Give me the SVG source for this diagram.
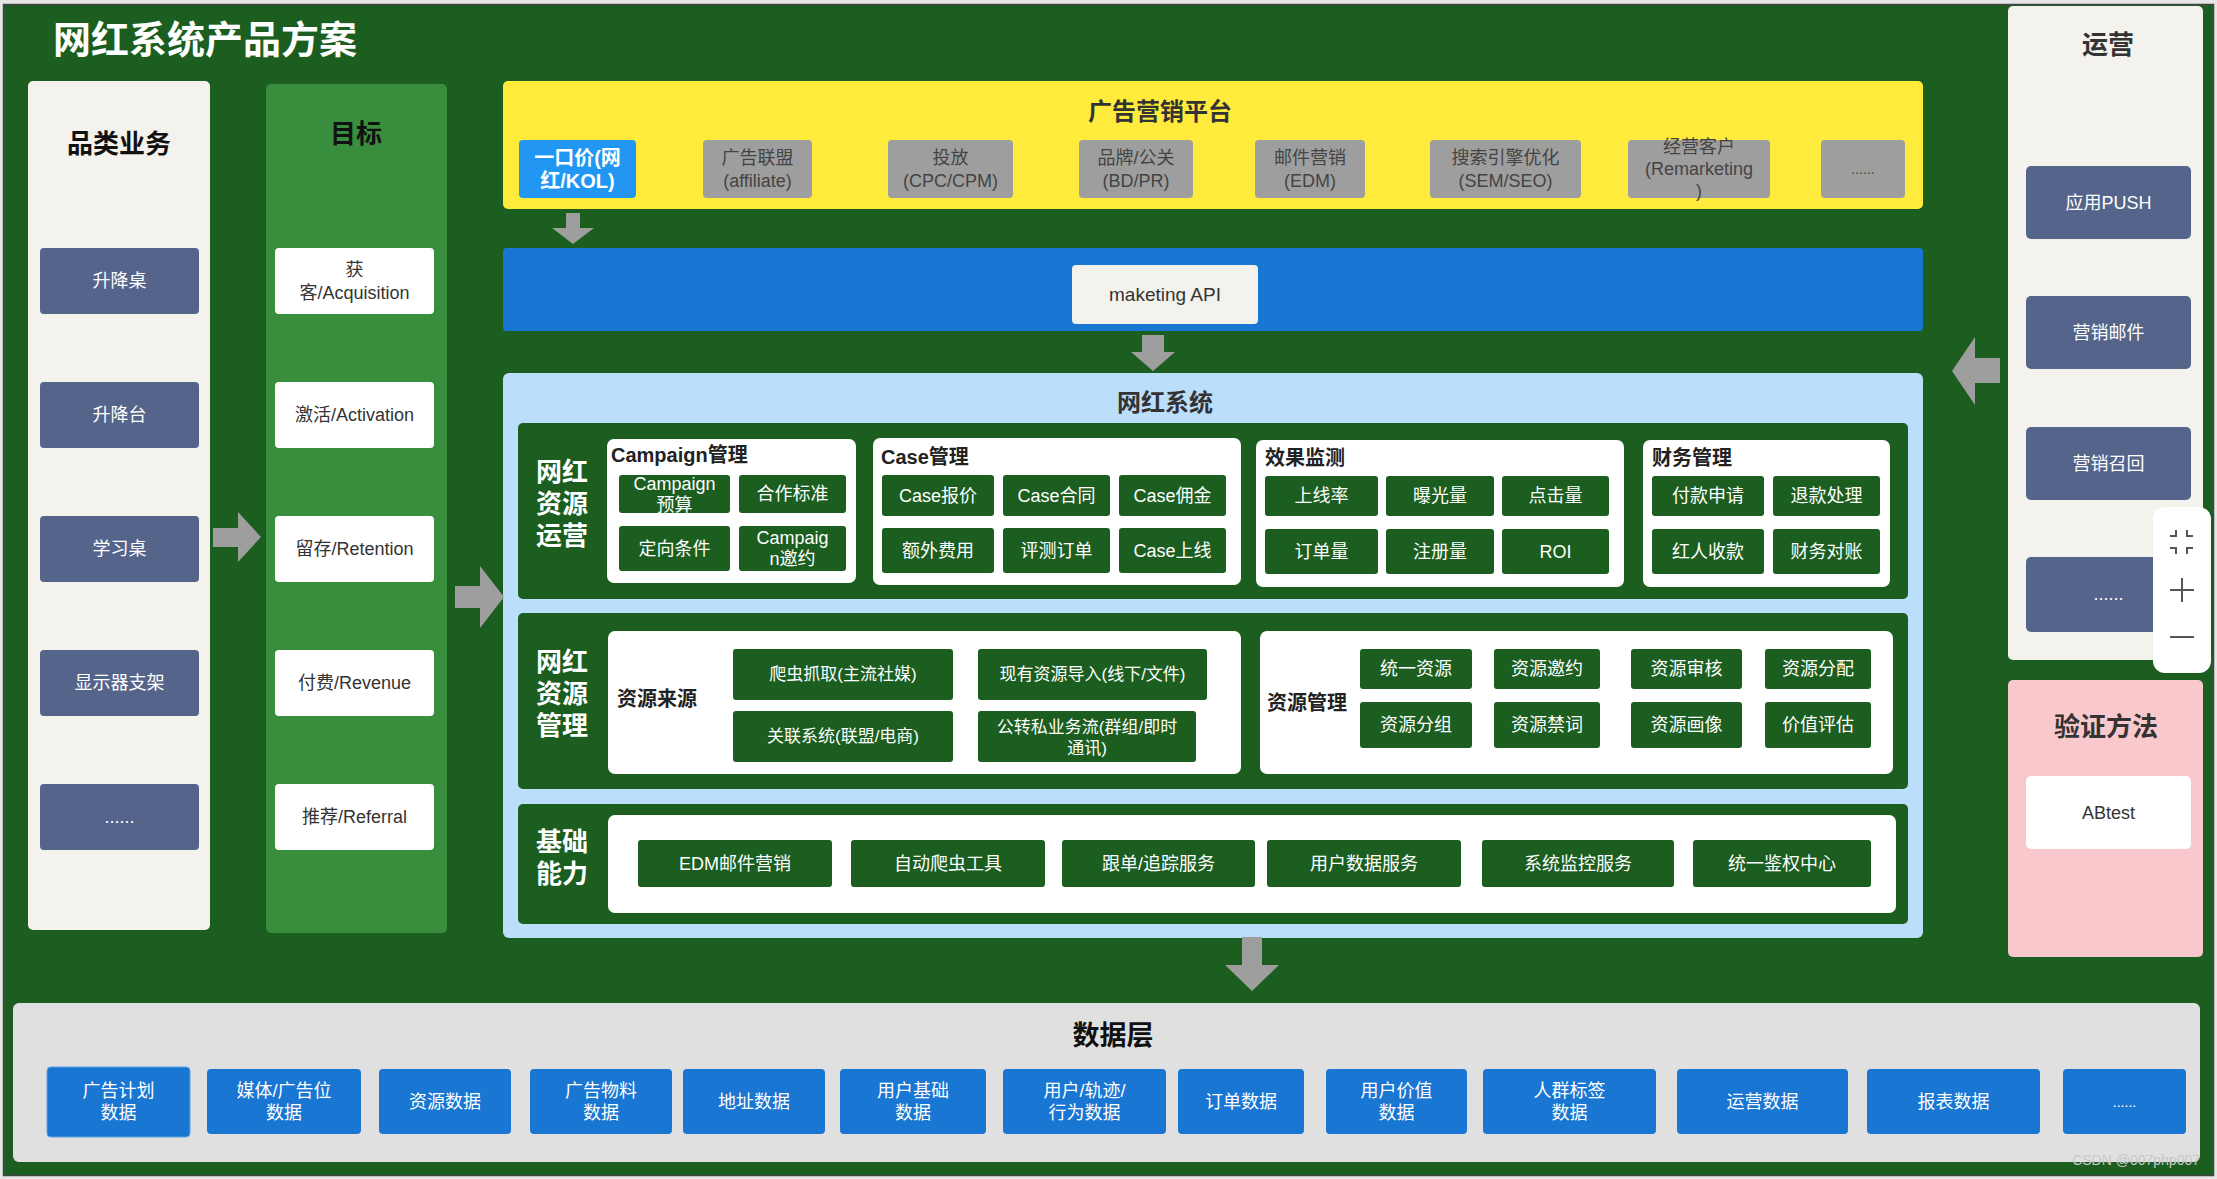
<svg xmlns="http://www.w3.org/2000/svg" width="2217" height="1179" viewBox="0 0 2217 1179">
<defs>
<style>
text{font-family:"Liberation Sans","Noto Sans CJK SC",sans-serif;dominant-baseline:central;text-anchor:middle}
.beige{fill:#f3f2ec}
.slate{fill:#55648a}
.wb{fill:#ffffff}
.dg{fill:#1b5e20}
.gray{fill:#9e9e9e}
.blue{fill:#1976d2}
.arrow{fill:#9e9e9e}
.tw{font-size:18px;fill:#ffffff}
.td{font-size:18px;fill:#333333}
.tg{font-size:18px;fill:#444444}
.ts{font-size:17px;fill:#ffffff}
.hd{font-size:26px;font-weight:bold;fill:#111111}
.hd2{font-size:24px;font-weight:bold;fill:#333333}
.sec{font-size:26px;font-weight:bold;fill:#ffffff}
.sub{font-size:20px;font-weight:bold;fill:#222222;text-anchor:start}
</style>
</defs>
<rect x="0" y="0" width="2217" height="1179" fill="#e6e6e6"/>
<rect x="3.5" y="4.5" width="2210" height="1171" fill="#1b5e20" stroke="#444" stroke-width="1.5"/>
<text x="53" y="40" style="font-size:38px;font-weight:bold;fill:#ffffff;text-anchor:start">网红系统产品方案</text>

<!-- 品类业务 -->
<g id="category">
<rect class="beige" x="28" y="81" width="182" height="849" rx="5"/>
<text class="hd" x="119" y="144">品类业务</text>
</g>
<g id="cat-1"><rect class="slate" x="40" y="248" width="159" height="66" rx="4"/><text class="tw" x="119.5" y="281">升降桌</text></g>
<g id="cat-2"><rect class="slate" x="40" y="382" width="159" height="66" rx="4"/><text class="tw" x="119.5" y="415">升降台</text></g>
<g id="cat-3"><rect class="slate" x="40" y="516" width="159" height="66" rx="4"/><text class="tw" x="119.5" y="549">学习桌</text></g>
<g id="cat-4"><rect class="slate" x="40" y="650" width="159" height="66" rx="4"/><text class="tw" x="119.5" y="683">显示器支架</text></g>
<g id="cat-5"><rect class="slate" x="40" y="784" width="159" height="66" rx="4"/><text class="tw" x="119.5" y="817">......</text></g>

<!-- 目标 -->
<g id="goal">
<rect x="266" y="84" width="181" height="849" rx="5" fill="#388e3c"/>
<text class="hd" x="356" y="134">目标</text>
</g>
<g id="goal-1"><rect class="wb" x="275" y="248" width="159" height="66" rx="4"/><text class="td" x="354.5" y="270"><tspan x="354.5">获</tspan><tspan x="354.5" dy="23">客/Acquisition</tspan></text></g>
<g id="goal-2"><rect class="wb" x="275" y="382" width="159" height="66" rx="4"/><text class="td" x="354.5" y="415">激活/Activation</text></g>
<g id="goal-3"><rect class="wb" x="275" y="516" width="159" height="66" rx="4"/><text class="td" x="354.5" y="549">留存/Retention</text></g>
<g id="goal-4"><rect class="wb" x="275" y="650" width="159" height="66" rx="4"/><text class="td" x="354.5" y="683">付费/Revenue</text></g>
<g id="goal-5"><rect class="wb" x="275" y="784" width="159" height="66" rx="4"/><text class="td" x="354.5" y="817">推荐/Referral</text></g>

<!-- 广告营销平台 -->
<g id="ad-platform">
<rect x="503" y="81" width="1420" height="128" rx="5" fill="#ffeb3b"/>
<text class="hd2" x="1160" y="111">广告营销平台</text>
</g>
<g id="ad-1"><rect x="519" y="140" width="117" height="58" rx="4" fill="#2196f3"/><text style="font-size:20px;font-weight:bold;fill:#fff" x="577.5" y="158"><tspan x="577.5">一口价(网</tspan><tspan x="577.5" dy="23">红/KOL)</tspan></text></g>
<g id="ad-2"><rect class="gray" x="703" y="140" width="109" height="58" rx="4"/><text class="tg" x="757.5" y="158"><tspan x="757.5">广告联盟</tspan><tspan x="757.5" dy="23">(affiliate)</tspan></text></g>
<g id="ad-3"><rect class="gray" x="888" y="140" width="125" height="58" rx="4"/><text class="tg" x="950.5" y="158"><tspan x="950.5">投放</tspan><tspan x="950.5" dy="23">(CPC/CPM)</tspan></text></g>
<g id="ad-4"><rect class="gray" x="1079" y="140" width="114" height="58" rx="4"/><text class="tg" x="1136" y="158"><tspan x="1136">品牌/公关</tspan><tspan x="1136" dy="23">(BD/PR)</tspan></text></g>
<g id="ad-5"><rect class="gray" x="1255" y="140" width="110" height="58" rx="4"/><text class="tg" x="1310" y="158"><tspan x="1310">邮件营销</tspan><tspan x="1310" dy="23">(EDM)</tspan></text></g>
<g id="ad-6"><rect class="gray" x="1430" y="140" width="151" height="58" rx="4"/><text class="tg" x="1505.5" y="158"><tspan x="1505.5">搜索引擎优化</tspan><tspan x="1505.5" dy="23">(SEM/SEO)</tspan></text></g>
<g id="ad-7"><rect class="gray" x="1628" y="140" width="142" height="58" rx="4"/><text class="tg" x="1699" y="147"><tspan x="1699">经营客户</tspan><tspan x="1699" dy="22">(Remarketing</tspan><tspan x="1699" dy="22">)</tspan></text></g>
<g id="ad-8"><rect class="gray" x="1821" y="140" width="84" height="58" rx="4"/><text class="tg" x="1863" y="169" style="font-size:14px">......</text></g>

<!-- marketing API -->
<g id="api-bar">
<rect class="blue" x="503" y="248" width="1420" height="83" rx="4"/>
</g>
<g id="api"><rect class="beige" x="1072" y="265" width="186" height="59" rx="4"/><text class="td" x="1165" y="294.5" style="font-size:19px">maketing API</text></g>

<!-- 网红系统 -->
<g id="kol-system">
<rect x="503" y="373" width="1420" height="565" rx="6" fill="#bbdefb"/>
<text class="hd2" x="1165" y="402">网红系统</text>
</g>

<g id="sec-ops">
<rect class="dg" x="518" y="423" width="1390" height="176" rx="5"/>
<text class="sec" x="562" y="472"><tspan x="562">网红</tspan><tspan x="562" dy="32">资源</tspan><tspan x="562" dy="32">运营</tspan></text>
</g>
<g id="campaign">
<rect class="wb" x="607" y="439" width="249" height="144" rx="7"/>
<text class="sub" x="611" y="455">Campaign管理</text>
</g>
<g id="cp-1"><rect class="dg" x="619" y="475" width="111" height="38" rx="3"/><text class="tw" x="674.5" y="484"><tspan x="674.5">Campaign</tspan><tspan x="674.5" dy="21">预算</tspan></text></g>
<g id="cp-2"><rect class="dg" x="739" y="475" width="107" height="38" rx="3"/><text class="tw" x="792.5" y="494">合作标准</text></g>
<g id="cp-3"><rect class="dg" x="619" y="526" width="111" height="45" rx="3"/><text class="tw" x="674.5" y="548.5">定向条件</text></g>
<g id="cp-4"><rect class="dg" x="739" y="526" width="107" height="45" rx="3"/><text class="tw" x="792.5" y="538"><tspan x="792.5">Campaig</tspan><tspan x="792.5" dy="21">n邀约</tspan></text></g>

<g id="case">
<rect class="wb" x="873" y="438" width="368" height="147" rx="7"/>
<text class="sub" x="881" y="457">Case管理</text>
</g>
<g id="case-1"><rect class="dg" x="882" y="475" width="112" height="41" rx="3"/><text class="tw" x="938" y="495.5">Case报价</text></g>
<g id="case-2"><rect class="dg" x="1003" y="475" width="107" height="41" rx="3"/><text class="tw" x="1056.5" y="495.5">Case合同</text></g>
<g id="case-3"><rect class="dg" x="1119" y="475" width="107" height="41" rx="3"/><text class="tw" x="1172.5" y="495.5">Case佣金</text></g>
<g id="case-4"><rect class="dg" x="882" y="528" width="112" height="45" rx="3"/><text class="tw" x="938" y="550.5">额外费用</text></g>
<g id="case-5"><rect class="dg" x="1003" y="528" width="107" height="45" rx="3"/><text class="tw" x="1056.5" y="550.5">评测订单</text></g>
<g id="case-6"><rect class="dg" x="1119" y="528" width="107" height="45" rx="3"/><text class="tw" x="1172.5" y="550.5">Case上线</text></g>

<g id="monitor">
<rect class="wb" x="1256" y="440" width="368" height="147" rx="7"/>
<text class="sub" x="1265" y="458">效果监测</text>
</g>
<g id="mo-1"><rect class="dg" x="1265" y="476" width="113" height="40" rx="3"/><text class="tw" x="1321.5" y="496">上线率</text></g>
<g id="mo-2"><rect class="dg" x="1386" y="476" width="108" height="40" rx="3"/><text class="tw" x="1440" y="496">曝光量</text></g>
<g id="mo-3"><rect class="dg" x="1502" y="476" width="107" height="40" rx="3"/><text class="tw" x="1555.5" y="496">点击量</text></g>
<g id="mo-4"><rect class="dg" x="1265" y="529" width="113" height="45" rx="3"/><text class="tw" x="1321.5" y="551.5">订单量</text></g>
<g id="mo-5"><rect class="dg" x="1386" y="529" width="108" height="45" rx="3"/><text class="tw" x="1440" y="551.5">注册量</text></g>
<g id="mo-6"><rect class="dg" x="1502" y="529" width="107" height="45" rx="3"/><text class="tw" x="1555.5" y="551.5">ROI</text></g>

<g id="finance">
<rect class="wb" x="1643" y="440" width="247" height="147" rx="7"/>
<text class="sub" x="1652" y="458">财务管理</text>
</g>
<g id="fi-1"><rect class="dg" x="1652" y="476" width="112" height="40" rx="3"/><text class="tw" x="1708" y="496">付款申请</text></g>
<g id="fi-2"><rect class="dg" x="1773" y="476" width="107" height="40" rx="3"/><text class="tw" x="1826.5" y="496">退款处理</text></g>
<g id="fi-3"><rect class="dg" x="1652" y="529" width="112" height="45" rx="3"/><text class="tw" x="1708" y="551.5">红人收款</text></g>
<g id="fi-4"><rect class="dg" x="1773" y="529" width="107" height="45" rx="3"/><text class="tw" x="1826.5" y="551.5">财务对账</text></g>

<g id="sec-res">
<rect class="dg" x="518" y="613" width="1390" height="176" rx="5"/>
<text class="sec" x="562" y="662"><tspan x="562">网红</tspan><tspan x="562" dy="32">资源</tspan><tspan x="562" dy="32">管理</tspan></text>
</g>
<g id="res-source">
<rect class="wb" x="608" y="631" width="633" height="143" rx="7"/>
<text class="sub" x="617" y="699">资源来源</text>
</g>
<g id="rs-1"><rect class="dg" x="733" y="649" width="220" height="51" rx="3"/><text class="ts" x="843" y="674.5">爬虫抓取(主流社媒)</text></g>
<g id="rs-2"><rect class="dg" x="978" y="649" width="229" height="51" rx="3"/><text class="ts" x="1092.5" y="674.5">现有资源导入(线下/文件)</text></g>
<g id="rs-3"><rect class="dg" x="733" y="711" width="220" height="51" rx="3"/><text class="ts" x="843" y="736.5">关联系统(联盟/电商)</text></g>
<g id="rs-4"><rect class="dg" x="978" y="711" width="218" height="51" rx="3"/><text class="ts" x="1087" y="727"><tspan x="1087">公转私业务流(群组/即时</tspan><tspan x="1087" dy="21">通讯)</tspan></text></g>

<g id="res-manage">
<rect class="wb" x="1260" y="631" width="633" height="143" rx="7"/>
<text class="sub" x="1267" y="703">资源管理</text>
</g>
<g id="rm-1"><rect class="dg" x="1360" y="649" width="112" height="40" rx="3"/><text class="tw" x="1416" y="669">统一资源</text></g>
<g id="rm-2"><rect class="dg" x="1494" y="649" width="106" height="40" rx="3"/><text class="tw" x="1547" y="669">资源邀约</text></g>
<g id="rm-3"><rect class="dg" x="1631" y="649" width="111" height="40" rx="3"/><text class="tw" x="1686.5" y="669">资源审核</text></g>
<g id="rm-4"><rect class="dg" x="1765" y="649" width="106" height="40" rx="3"/><text class="tw" x="1818" y="669">资源分配</text></g>
<g id="rm-5"><rect class="dg" x="1360" y="702" width="112" height="46" rx="3"/><text class="tw" x="1416" y="725">资源分组</text></g>
<g id="rm-6"><rect class="dg" x="1494" y="702" width="106" height="46" rx="3"/><text class="tw" x="1547" y="725">资源禁词</text></g>
<g id="rm-7"><rect class="dg" x="1631" y="702" width="111" height="46" rx="3"/><text class="tw" x="1686.5" y="725">资源画像</text></g>
<g id="rm-8"><rect class="dg" x="1765" y="702" width="106" height="46" rx="3"/><text class="tw" x="1818" y="725">价值评估</text></g>

<g id="sec-base">
<rect class="dg" x="518" y="804" width="1390" height="120" rx="5"/>
<text class="sec" x="562" y="842"><tspan x="562">基础</tspan><tspan x="562" dy="32">能力</tspan></text>
<rect class="wb" x="608" y="815" width="1288" height="98" rx="7"/>
</g>
<g id="base-1"><rect class="dg" x="638" y="840" width="194" height="47" rx="3"/><text class="tw" x="735" y="863.5">EDM邮件营销</text></g>
<g id="base-2"><rect class="dg" x="851" y="840" width="194" height="47" rx="3"/><text class="tw" x="948" y="863.5">自动爬虫工具</text></g>
<g id="base-3"><rect class="dg" x="1062" y="840" width="193" height="47" rx="3"/><text class="tw" x="1158.5" y="863.5">跟单/追踪服务</text></g>
<g id="base-4"><rect class="dg" x="1267" y="840" width="194" height="47" rx="3"/><text class="tw" x="1364" y="863.5">用户数据服务</text></g>
<g id="base-5"><rect class="dg" x="1482" y="840" width="192" height="47" rx="3"/><text class="tw" x="1578" y="863.5">系统监控服务</text></g>
<g id="base-6"><rect class="dg" x="1693" y="840" width="178" height="47" rx="3"/><text class="tw" x="1782" y="863.5">统一鉴权中心</text></g>

<!-- 运营 -->
<g id="operations">
<rect class="beige" x="2008" y="6" width="195" height="654" rx="5"/>
<text class="hd2" x="2108" y="45" style="font-size:26px">运营</text>
</g>
<g id="op-1"><rect class="slate" x="2026" y="166" width="165" height="73" rx="5"/><text class="tw" x="2108.5" y="202.5">应用PUSH</text></g>
<g id="op-2"><rect class="slate" x="2026" y="296" width="165" height="73" rx="5"/><text class="tw" x="2108.5" y="332.5">营销邮件</text></g>
<g id="op-3"><rect class="slate" x="2026" y="427" width="165" height="73" rx="5"/><text class="tw" x="2108.5" y="463.5">营销召回</text></g>
<g id="op-4"><rect class="slate" x="2026" y="557" width="165" height="75" rx="5"/><text class="tw" x="2108.5" y="594">......</text></g>

<!-- 验证方法 -->
<g id="verify">
<rect x="2008" y="680" width="195" height="277" rx="5" fill="#f9c8cd"/>
<text class="hd2" x="2106" y="727" style="font-size:26px">验证方法</text>
</g>
<g id="abtest"><rect class="wb" x="2026" y="776" width="165" height="73" rx="5"/><text class="td" x="2108.5" y="812.5">ABtest</text></g>

<!-- 数据层 -->
<g id="data-layer">
<rect x="13" y="1003" width="2187" height="159" rx="6" fill="#e0e0e0"/>
<text x="1113" y="1036" style="font-size:27px;font-weight:bold;fill:#111">数据层</text>
</g>
<g id="d-1"><rect class="blue" x="47" y="1067" width="143" height="70" rx="4" stroke="#5a9fe0" stroke-width="1"/><text class="tw" x="118.5" y="1091"><tspan x="118.5">广告计划</tspan><tspan x="118.5" dy="22">数据</tspan></text></g>
<g id="d-2"><rect class="blue" x="207" y="1069" width="154" height="65" rx="4"/><text class="tw" x="284" y="1091"><tspan x="284">媒体/广告位</tspan><tspan x="284" dy="22">数据</tspan></text></g>
<g id="d-3"><rect class="blue" x="379" y="1069" width="132" height="65" rx="4"/><text class="tw" x="445" y="1101.5">资源数据</text></g>
<g id="d-4"><rect class="blue" x="530" y="1069" width="142" height="65" rx="4"/><text class="tw" x="601" y="1091"><tspan x="601">广告物料</tspan><tspan x="601" dy="22">数据</tspan></text></g>
<g id="d-5"><rect class="blue" x="683" y="1069" width="142" height="65" rx="4"/><text class="tw" x="754" y="1101.5">地址数据</text></g>
<g id="d-6"><rect class="blue" x="840" y="1069" width="146" height="65" rx="4"/><text class="tw" x="913" y="1091"><tspan x="913">用户基础</tspan><tspan x="913" dy="22">数据</tspan></text></g>
<g id="d-7"><rect class="blue" x="1003" y="1069" width="163" height="65" rx="4"/><text class="tw" x="1084.5" y="1091"><tspan x="1084.5">用户/轨迹/</tspan><tspan x="1084.5" dy="22">行为数据</tspan></text></g>
<g id="d-8"><rect class="blue" x="1178" y="1069" width="126" height="65" rx="4"/><text class="tw" x="1241" y="1101.5">订单数据</text></g>
<g id="d-9"><rect class="blue" x="1326" y="1069" width="141" height="65" rx="4"/><text class="tw" x="1396.5" y="1091"><tspan x="1396.5">用户价值</tspan><tspan x="1396.5" dy="22">数据</tspan></text></g>
<g id="d-10"><rect class="blue" x="1483" y="1069" width="173" height="65" rx="4"/><text class="tw" x="1569.5" y="1091"><tspan x="1569.5">人群标签</tspan><tspan x="1569.5" dy="22">数据</tspan></text></g>
<g id="d-11"><rect class="blue" x="1677" y="1069" width="171" height="65" rx="4"/><text class="tw" x="1762.5" y="1101.5">运营数据</text></g>
<g id="d-12"><rect class="blue" x="1867" y="1069" width="173" height="65" rx="4"/><text class="tw" x="1953.5" y="1101.5">报表数据</text></g>
<g id="d-13"><rect class="blue" x="2063" y="1069" width="123" height="65" rx="4"/><text class="tw" x="2124.5" y="1101.5" style="font-size:14px">......</text></g>

<!-- connectors -->
<g id="connectors" class="arrow">
<polygon points="213,528 238,528 238,512 261,537 238,562 238,547 213,547"/>
<polygon points="455,586 480,586 480,566 504,597 480,628 480,608 455,608"/>
<polygon points="566,213 580,213 580,228 594,228 573,244 552,228 566,228"/>
<polygon points="1142,335 1164,335 1164,352 1175,352 1153,371 1131,352 1142,352"/>
<polygon points="1242,937 1262,937 1262,965 1279,965 1252,991 1225,965 1242,965"/>
<polygon points="2000,358 1975,358 1975,337 1952,371 1975,405 1975,383 2000,383"/>
</g>

<!-- zoom control overlay -->
<g id="zoom-control">
<rect x="2153" y="507" width="58" height="166" rx="12" fill="#ffffff"/>
<g fill="none" stroke="#555" stroke-width="2">
<polyline points="2170,536 2176,536 2176,530"/>
<polyline points="2193,536 2187,536 2187,530"/>
<polyline points="2170,548 2176,548 2176,554"/>
<polyline points="2193,548 2187,548 2187,554"/>
<line x1="2170" y1="590" x2="2194" y2="590"/>
<line x1="2182" y1="578" x2="2182" y2="602"/>
<line x1="2170" y1="637" x2="2194" y2="637"/>
</g>
</g>

<text x="2200" y="1160" style="font-size:14px;fill:#c8c8c8;text-anchor:end">CSDN @007php007</text>
</svg>
